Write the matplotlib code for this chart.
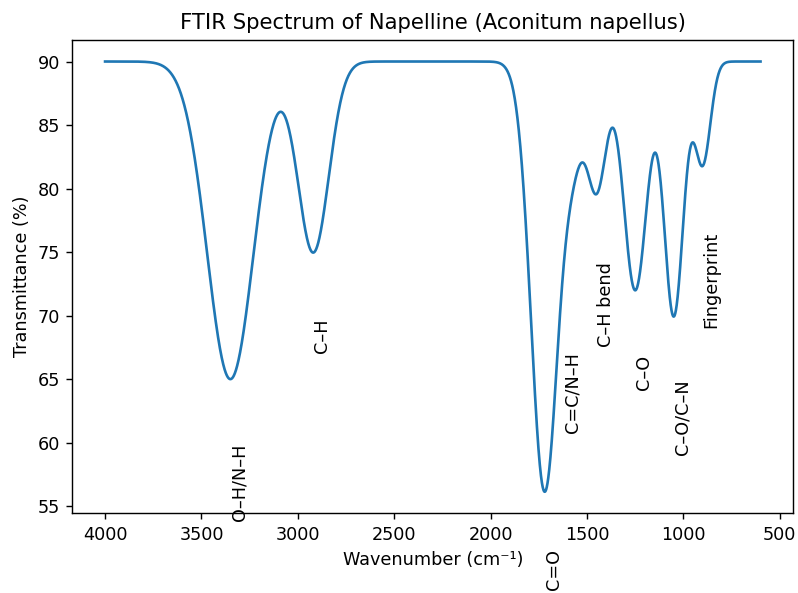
import numpy as np
import matplotlib
matplotlib.use("Agg")
import matplotlib.pyplot as plt

# Absorption bands (centre in cm^-1, depth in %T, width sigma in cm^-1)
baseline = 90.0
band_centers = [3350, 2920, 1720, 1570, 1450, 1250, 1050, 900]
band_depths = [25.0, 15.0, 33.8, 6.0, 10.0, 18.0, 20.0, 8.0]
band_widths = [120, 80, 70, 50, 50, 60, 50, 40]

# Annotations (x in cm^-1, y = top of the rotated label in %T)
label_texts = ["O–H/N–H", "C–H", "C=O", "C=C/N–H", "C–H bend", "C–O", "C–O/C–N", "Fingerprint"]
label_x = [3350, 2920, 1720, 1620, 1450, 1250, 1050, 900]
label_y = [59.9, 69.8, 51.6, 67.1, 74.2, 66.9, 65.0, 76.6]

wn_start, wn_end = 4000, 600

wavenumber = np.linspace(wn_start, wn_end, 3401)
transmittance = np.full_like(wavenumber, baseline)
for c, a, s in zip(band_centers, band_depths, band_widths):
    transmittance -= a * np.exp(-(wavenumber - c) ** 2 / (2 * s * s))

DPI = 127
fig = plt.figure(figsize=(798 / DPI, 593 / DPI), dpi=DPI)
ax = fig.add_axes([72.3 / 798, 1 - 513.3 / 593, (793.3 - 72.3) / 798, (513.3 - 40) / 593])
ax.plot(wavenumber, transmittance, color="#1f77b4", linewidth=1.5)
ax.invert_xaxis()

for txt, x, y in zip(label_texts, label_x, label_y):
    ax.text(x, y, txt, rotation=90, ha="left", va="top", fontsize=10)

ax.set_title("FTIR Spectrum of Napelline (Aconitum napellus)", fontsize=12)
ax.set_xlabel("Wavenumber (cm⁻¹)")
ax.set_ylabel("Transmittance (%)")
ax.set_xticks([4000, 3500, 3000, 2500, 2000, 1500, 1000, 500])
ax.set_yticks([55, 60, 65, 70, 75, 80, 85, 90])

fig.savefig("out.png", dpi=DPI)
